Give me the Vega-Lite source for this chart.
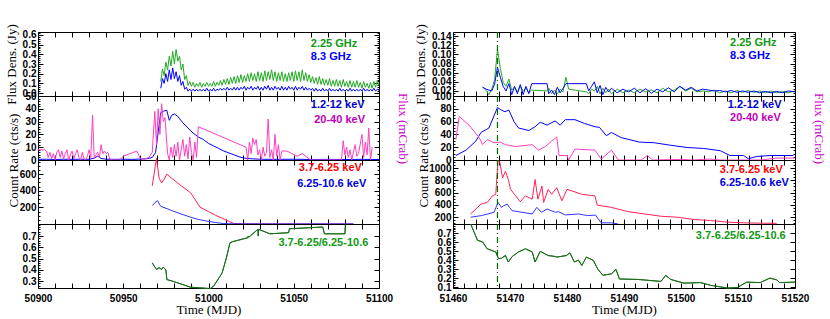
{
"$schema": "https://vega.github.io/schema/vega-lite/v6.json",
"background": "white",
"padding": {"left": 4, "top": 23, "right": 4, "bottom": 4},
"config": {
 "view": {"stroke": "black", "strokeWidth": 1},
 "axis": {"grid": false, "domain": false, "ticks": true, "tickColor": "black", "tickSize": -5, "tickWidth": 1, "labelPadding": 7, "labelFont": "Liberation Sans", "labelFontWeight": "bold", "labelFontSize": 10, "labelColor": "black", "labelOverlap": false, "labelFlush": false, "labelBound": false, "titleFont": "Liberation Serif", "titleFontWeight": "normal", "titleFontSize": 13, "titleColor": "black", "titlePadding": 4},
 "line": {"strokeWidth": 1},
 "text": {"font": "Liberation Sans", "fontWeight": "bold", "fontSize": 11}
},
"datasets": {
 "one": [{}],
 "radioL": [
{"d":50972,"g":0.12,"b":0.05},{"d":50973,"g":0.25,"b":0.15},{"d":50974,"g":0.18,"b":0.10},{"d":50975,"g":0.32,"b":0.20},{"d":50976,"g":0.24,"b":0.12},{"d":50977,"g":0.38,"b":0.24},{"d":50978,"g":0.28,"b":0.14},{"d":50979,"g":0.43,"b":0.26},{"d":50980,"g":0.30,"b":0.15},{"d":50981,"g":0.45,"b":0.22},{"d":50982,"g":0.33,"b":0.12},{"d":50983,"g":0.38,"b":0.18},{"d":50984,"g":0.24,"b":0.08},{"d":50985,"g":0.30,"b":0.12},{"d":50986,"g":0.14,"b":0.04},{"d":50987,"g":0.18,"b":0.06},{"d":50988,"g":0.08,"b":0.02},{"d":50989,"g":0.12,"b":0.04},{"d":50990,"g":0.07,"b":0.02},{"d":50991,"g":0.11,"b":0.04},{"d":50992,"g":0.06,"b":0.02},{"d":50993,"g":0.10,"b":0.04},{"d":50994,"g":0.07,"b":0.02},{"d":50995,"g":0.11,"b":0.04},{"d":50996,"g":0.06,"b":0.02},{"d":50997,"g":0.10,"b":0.04},{"d":50998,"g":0.07,"b":0.02},{"d":50999,"g":0.11,"b":0.05},{"d":51000,"g":0.07,"b":0.02},{"d":51001,"g":0.10,"b":0.04},{"d":51002,"g":0.07,"b":0.02},{"d":51003,"g":0.12,"b":0.05},{"d":51004,"g":0.07,"b":0.02},{"d":51005,"g":0.11,"b":0.04},{"d":51006,"g":0.08,"b":0.03},{"d":51007,"g":0.13,"b":0.05},{"d":51008,"g":0.08,"b":0.03},{"d":51009,"g":0.14,"b":0.05},{"d":51010,"g":0.09,"b":0.03},{"d":51011,"g":0.15,"b":0.06},{"d":51012,"g":0.09,"b":0.03},{"d":51013,"g":0.16,"b":0.05},{"d":51014,"g":0.10,"b":0.03},{"d":51015,"g":0.17,"b":0.06},{"d":51016,"g":0.10,"b":0.03},{"d":51017,"g":0.18,"b":0.06},{"d":51018,"g":0.11,"b":0.03},{"d":51019,"g":0.19,"b":0.06},{"d":51020,"g":0.11,"b":0.04},{"d":51021,"g":0.18,"b":0.07},{"d":51022,"g":0.12,"b":0.03},{"d":51023,"g":0.20,"b":0.06},{"d":51024,"g":0.12,"b":0.04},{"d":51025,"g":0.21,"b":0.07},{"d":51026,"g":0.13,"b":0.03},{"d":51027,"g":0.20,"b":0.06},{"d":51028,"g":0.12,"b":0.04},{"d":51029,"g":0.22,"b":0.07},{"d":51030,"g":0.13,"b":0.03},{"d":51031,"g":0.21,"b":0.06},{"d":51032,"g":0.12,"b":0.03},{"d":51033,"g":0.23,"b":0.07},{"d":51034,"g":0.13,"b":0.04},{"d":51035,"g":0.22,"b":0.08},{"d":51036,"g":0.14,"b":0.03},{"d":51037,"g":0.24,"b":0.06},{"d":51038,"g":0.13,"b":0.03},{"d":51039,"g":0.22,"b":0.07},{"d":51040,"g":0.12,"b":0.04},{"d":51041,"g":0.21,"b":0.06},{"d":51042,"g":0.13,"b":0.03},{"d":51043,"g":0.22,"b":0.07},{"d":51044,"g":0.12,"b":0.03},{"d":51045,"g":0.20,"b":0.06},{"d":51046,"g":0.12,"b":0.03},{"d":51047,"g":0.21,"b":0.07},{"d":51048,"g":0.13,"b":0.04},{"d":51049,"g":0.22,"b":0.06},{"d":51050,"g":0.12,"b":0.03},{"d":51051,"g":0.23,"b":0.07},{"d":51052,"g":0.13,"b":0.03},{"d":51053,"g":0.22,"b":0.06},{"d":51054,"g":0.12,"b":0.04},{"d":51055,"g":0.24,"b":0.07},{"d":51056,"g":0.13,"b":0.03},{"d":51057,"g":0.21,"b":0.06},{"d":51058,"g":0.12,"b":0.03},{"d":51059,"g":0.19,"b":0.05},{"d":51060,"g":0.11,"b":0.03},{"d":51061,"g":0.17,"b":0.05},{"d":51062,"g":0.10,"b":0.02},{"d":51063,"g":0.16,"b":0.05},{"d":51064,"g":0.09,"b":0.02},{"d":51065,"g":0.17,"b":0.04},{"d":51066,"g":0.09,"b":0.02},{"d":51067,"g":0.15,"b":0.05},{"d":51068,"g":0.08,"b":0.02},{"d":51069,"g":0.14,"b":0.04},{"d":51070,"g":0.08,"b":0.02},{"d":51071,"g":0.15,"b":0.05},{"d":51072,"g":0.07,"b":0.02},{"d":51073,"g":0.13,"b":0.04},{"d":51074,"g":0.07,"b":0.02},{"d":51075,"g":0.14,"b":0.04},{"d":51076,"g":0.07,"b":0.02},{"d":51077,"g":0.13,"b":0.05},{"d":51078,"g":0.06,"b":0.02},{"d":51079,"g":0.14,"b":0.04},{"d":51080,"g":0.07,"b":0.02},{"d":51081,"g":0.12,"b":0.04},{"d":51082,"g":0.06,"b":0.02},{"d":51083,"g":0.13,"b":0.05},{"d":51084,"g":0.06,"b":0.02},{"d":51085,"g":0.12,"b":0.04},{"d":51086,"g":0.06,"b":0.02},{"d":51087,"g":0.13,"b":0.04},{"d":51088,"g":0.06,"b":0.02},{"d":51089,"g":0.11,"b":0.04},{"d":51090,"g":0.05,"b":0.02},{"d":51091,"g":0.12,"b":0.05},{"d":51092,"g":0.06,"b":0.02},{"d":51093,"g":0.10,"b":0.04},{"d":51094,"g":0.05,"b":0.02},{"d":51095,"g":0.11,"b":0.04},{"d":51096,"g":0.05,"b":0.02},{"d":51097,"g":0.12,"b":0.05},{"d":51098,"g":0.06,"b":0.02},{"d":51099,"g":0.13,"b":0.04},{"d":51100,"g":0.08,"b":0.03}
 ],
 "asmL": [
{"d":50900,"v":0.5},{"d":50905,"v":0.6},{"d":50910,"v":0.4},{"d":50915,"v":0.6},{"d":50920,"v":0.5},{"d":50925,"v":0.6},{"d":50930,"v":0.5},{"d":50933,"v":1.5},{"d":50935,"v":3},{"d":50937,"v":1.2},{"d":50940,"v":0.6},{"d":50945,"v":0.5},{"d":50950,"v":0.6},{"d":50955,"v":0.5},{"d":50960,"v":0.7},{"d":50964,"v":1},{"d":50967,"v":2},{"d":50969,"v":6},{"d":50970.5,"v":22},{"d":50972,"v":37},{"d":50973.5,"v":38},{"d":50975.5,"v":39},{"d":50977,"v":31},{"d":50978.5,"v":35},{"d":50980,"v":36},{"d":50982,"v":34},{"d":50985,"v":29},{"d":50988,"v":25},{"d":50991,"v":21},{"d":50994,"v":18},{"d":50997,"v":16},{"d":51000,"v":13},{"d":51003,"v":11},{"d":51006,"v":9},{"d":51009,"v":7},{"d":51012,"v":5.5},{"d":51015,"v":4},{"d":51018,"v":2.5},{"d":51021,"v":1.5},{"d":51025,"v":1},{"d":51030,"v":0.6},{"d":51040,"v":0.5},{"d":51050,"v":0.6},{"d":51060,"v":0.4},{"d":51070,"v":0.5},{"d":51080,"v":0.4},{"d":51090,"v":0.5},{"d":51100,"v":0.4}
 ],
 "batseL": [
{"d":50900,"v":8},{"d":50904,"v":8},{"d":50905,"v":7},{"d":50906,"v":2},{"d":50907,"v":6},{"d":50908,"v":1},{"d":50909,"v":5},{"d":50910,"v":0},{"d":50911,"v":6},{"d":50912,"v":8},{"d":50913,"v":2},{"d":50914,"v":7},{"d":50915,"v":1},{"d":50916,"v":5},{"d":50917,"v":8},{"d":50918,"v":0},{"d":50919,"v":4},{"d":50920,"v":7},{"d":50921,"v":1},{"d":50922,"v":5},{"d":50923,"v":8},{"d":50924,"v":2},{"d":50925,"v":0},{"d":50926,"v":6},{"d":50927,"v":1},{"d":50928,"v":0},{"d":50929,"v":3},{"d":50930,"v":8},{"d":50931,"v":2},{"d":50932,"v":35},{"d":50933,"v":1},{"d":50934,"v":4},{"d":50935,"v":6},{"d":50936,"v":2},{"d":50937,"v":12},{"d":50938,"v":5},{"d":50939,"v":7},{"d":50940,"v":5},{"d":50941,"v":6},{"d":50942,"v":1},{"d":50944,"v":0},{"d":50948,"v":0},{"d":50950,"v":3},{"d":50958,"v":7},{"d":50960,"v":1},{"d":50962,"v":0.5},{"d":50965,"v":2},{"d":50967,"v":6},{"d":50968.5,"v":38},{"d":50969.5,"v":12},{"d":50970.5,"v":40},{"d":50971.5,"v":20},{"d":50972.5,"v":44},{"d":50973.5,"v":30},{"d":50974.5,"v":33},{"d":50975.5,"v":14},{"d":50976,"v":5},{"d":50977,"v":0},{"d":50978,"v":10},{"d":50979,"v":2},{"d":50980,"v":12},{"d":50981,"v":3},{"d":50982,"v":14},{"d":50983,"v":0},{"d":50984,"v":8},{"d":50985,"v":16},{"d":50986,"v":3},{"d":50987,"v":12},{"d":50988,"v":1},{"d":50989,"v":18},{"d":50990,"v":6},{"d":50991,"v":0},{"d":50992,"v":14},{"d":50993,"v":2},{"d":50994,"v":26},{"d":51022,"v":10},{"d":51023,"v":0},{"d":51024,"v":14},{"d":51025,"v":5},{"d":51026,"v":17},{"d":51027,"v":12},{"d":51028,"v":16},{"d":51029,"v":4},{"d":51030,"v":8},{"d":51031,"v":0},{"d":51032,"v":10},{"d":51033,"v":3},{"d":51034,"v":6},{"d":51035,"v":32},{"d":51036,"v":2},{"d":51037,"v":8},{"d":51038,"v":0},{"d":51039,"v":20},{"d":51040,"v":3},{"d":51041,"v":12},{"d":51042,"v":0},{"d":51043,"v":7},{"d":51046,"v":7},{"d":51052,"v":3},{"d":51055,"v":5},{"d":51060,"v":0},{"d":51070,"v":0},{"d":51078,"v":0},{"d":51079,"v":15},{"d":51080,"v":4},{"d":51081,"v":10},{"d":51082,"v":2},{"d":51083,"v":8},{"d":51084,"v":0},{"d":51086,"v":12},{"d":51087,"v":3},{"d":51088,"v":5},{"d":51090,"v":20},{"d":51091,"v":2},{"d":51092,"v":14},{"d":51093,"v":4},{"d":51094,"v":25},{"d":51095,"v":0},{"d":51096,"v":10}
 ],
 "softL": [
{"d":50967,"v":459},{"d":50969.5,"v":790},{"d":50970.5,"v":640},{"d":50971,"v":553},{"d":50972.5,"v":494},{"d":50974,"v":540},{"d":50975.5,"v":600},{"d":50979,"v":541},{"d":50984,"v":460},{"d":50989.5,"v":376},{"d":50995,"v":203},{"d":51000,"v":150},{"d":51004,"v":106},{"d":51008,"v":70},{"d":51012.5,"v":27},{"d":51015,"v":6},{"d":51020,"v":3},{"d":51030,"v":2},{"d":51050,"v":1},{"d":51070,"v":1},{"d":51085,"v":1}
 ],
 "hardL": [
{"d":50967,"v":223},{"d":50970,"v":282},{"d":50972,"v":212},{"d":50975,"v":190},{"d":50979,"v":157},{"d":50984,"v":120},{"d":50989.5,"v":82},{"d":50994,"v":55},{"d":50999,"v":35},{"d":51004,"v":18},{"d":51009,"v":5},{"d":51015,"v":2},{"d":51030,"v":1},{"d":51085,"v":1}
 ],
 "ratioL": [
{"d":50967,"v":0.463},{"d":50969.5,"v":0.404},{"d":50971,"v":0.42},{"d":50972.5,"v":0.405},{"d":50973.5,"v":0.425},{"d":50975,"v":0.40},{"d":50975.6,"v":0.315},{"d":50979,"v":0.30},{"d":50989.5,"v":0.247},{"d":51001,"v":0.235},{"d":51003,"v":0.256},{"d":51008,"v":0.374},{"d":51010.5,"v":0.507},{"d":51012.6,"v":0.64},{"d":51014,"v":0.65},{"d":51023,"v":0.685},{"d":51023.3,"v":0.70},{"d":51023.6,"v":0.69},{"d":51029,"v":0.76},{"d":51029.2,"v":0.70},{"d":51029.4,"v":0.76},{"d":51036,"v":0.72},{"d":51047,"v":0.73},{"d":51047.5,"v":0.765},{"d":51067,"v":0.78},{"d":51068,"v":0.72},{"d":51080,"v":0.72},{"d":51080.3,"v":0.80}
 ],
 "radioR": [
{"d":51465.2,"g":0.029,"b":0.028},{"d":51465.8,"g":0.021,"b":0.024},{"d":51466.3,"g":0.012,"b":0.022},{"d":51466.8,"g":0.024,"b":0.020},{"d":51467.3,"g":0.045,"b":0.035},{"d":51467.8,"g":0.111,"b":0.072},{"d":51468.3,"g":0.070,"b":0.050},{"d":51468.8,"g":0.039,"b":0.030},{"d":51469.3,"g":0.030,"b":0.020},{"d":51469.8,"g":0.046,"b":0.036},{"d":51470.3,"g":0.022,"b":0.012},{"d":51470.8,"g":0.028,"b":0.030},{"d":51471.3,"g":0.018,"b":0.014},{"d":51471.8,"g":0.030,"b":0.034},{"d":51472.3,"g":0.020,"b":0.012},{"d":51472.8,"g":0.026,"b":0.030},{"d":51473.3,"g":0.016,"b":0.014},{"d":51473.8,"g":0.022,"b":0.036},{"d":51476.5,"g":0.020,"b":0.036},{"d":51476.8,"g":0.026,"b":0.014},{"d":51477.3,"g":0.014,"b":0.022},{"d":51477.8,"g":0.022,"b":0.012},{"d":51478.3,"g":0.014,"b":0.028},{"d":51478.8,"g":0.024,"b":0.016},{"d":51479.3,"g":0.018,"b":0.026},{"d":51479.8,"g":0.050,"b":0.036},{"d":51480.3,"g":0.024,"b":0.036},{"d":51483.4,"g":0.018,"b":0.036},{"d":51483.8,"g":0.014,"b":0.020},{"d":51484.3,"g":0.024,"b":0.030},{"d":51484.8,"g":0.020,"b":0.040},{"d":51485.3,"g":0.030,"b":0.016},{"d":51485.8,"g":0.014,"b":0.032},{"d":51486.3,"g":0.026,"b":0.012},{"d":51486.8,"g":0.016,"b":0.028},{"d":51487.3,"g":0.024,"b":0.018},{"d":51487.8,"g":0.014,"b":0.026},{"d":51488.8,"g":0.024,"b":0.016},{"d":51489.8,"g":0.016,"b":0.024},{"d":51490.8,"g":0.022,"b":0.018},{"d":51491.8,"g":0.016,"b":0.026},{"d":51492.8,"g":0.024,"b":0.016},{"d":51493.8,"g":0.018,"b":0.025},{"d":51494.8,"g":0.022,"b":0.015},{"d":51495.8,"g":0.016,"b":0.024},{"d":51496.8,"g":0.026,"b":0.018},{"d":51497.8,"g":0.018,"b":0.027},{"d":51498.8,"g":0.022,"b":0.018},{"d":51499.8,"g":0.030,"b":0.030},{"d":51500.8,"g":0.020,"b":0.022},{"d":51501.8,"g":0.026,"b":0.028},{"d":51502.8,"g":0.018,"b":0.020},{"d":51503.8,"g":0.020,"b":0.024},{"d":51504.8,"g":0.018,"b":0.022},{"d":51505.8,"g":0.022,"b":0.020},{"d":51506.8,"g":0.016,"b":0.021},{"d":51507.8,"g":0.020,"b":0.018},{"d":51508.8,"g":0.016,"b":0.021},{"d":51509.8,"g":0.021,"b":0.017},{"d":51510.8,"g":0.017,"b":0.020},{"d":51511.8,"g":0.021,"b":0.017},{"d":51512.8,"g":0.017,"b":0.020},{"d":51513.8,"g":0.020,"b":0.016},{"d":51514.8,"g":0.016,"b":0.019},{"d":51515.8,"g":0.020,"b":0.016},{"d":51516.8,"g":0.016,"b":0.019},{"d":51517.8,"g":0.019,"b":0.016},{"d":51518.8,"g":0.016,"b":0.020},{"d":51520,"g":0.020,"b":0.018}
 ],
 "asmR": [
{"d":51460.5,"v":7},{"d":51462.3,"v":15.5},{"d":51464,"v":29.5},{"d":51464.9,"v":43},{"d":51466.3,"v":50},{"d":51467.8,"v":82},{"d":51468.5,"v":78},{"d":51469.1,"v":75.5},{"d":51469.8,"v":78},{"d":51470.7,"v":60},{"d":51471.5,"v":50},{"d":51473.3,"v":46},{"d":51474.4,"v":52},{"d":51475.3,"v":59},{"d":51476.5,"v":54.5},{"d":51477.9,"v":61},{"d":51478.8,"v":54.5},{"d":51479.7,"v":63},{"d":51481.4,"v":63},{"d":51483.1,"v":57},{"d":51484.9,"v":52},{"d":51485.7,"v":51},{"d":51486.9,"v":38},{"d":51487.8,"v":43},{"d":51489.5,"v":35},{"d":51492.7,"v":28},{"d":51495.3,"v":27},{"d":51498.2,"v":23},{"d":51501.1,"v":19.5},{"d":51504,"v":18},{"d":51506.9,"v":14.5},{"d":51508.6,"v":7},{"d":51511,"v":7},{"d":51511.8,"v":2},{"d":51513.3,"v":5.5},{"d":51515.6,"v":7},{"d":51519.7,"v":7}
 ],
 "batseR": [
{"d":51460.5,"v":32},{"d":51461.1,"v":68},{"d":51462.8,"v":54.5},{"d":51464.6,"v":35},{"d":51465.2,"v":24},{"d":51466,"v":32},{"d":51467.2,"v":27},{"d":51468.3,"v":28},{"d":51469.2,"v":24},{"d":51471,"v":21},{"d":51473.9,"v":24},{"d":51475,"v":15.5},{"d":51476.2,"v":21},{"d":51477.3,"v":29.5},{"d":51478.2,"v":36},{"d":51478.6,"v":7},{"d":51480,"v":7},{"d":51480.3,"v":0},{"d":51481.4,"v":17},{"d":51484.9,"v":15.5},{"d":51486,"v":1.5},{"d":51487.8,"v":15.5},{"d":51489,"v":0},{"d":51493,"v":0},{"d":51494.1,"v":7},{"d":51495,"v":0},{"d":51500,"v":1},{"d":51502,"v":0},{"d":51505,"v":1.5},{"d":51507,"v":0},{"d":51514,"v":0},{"d":51516.8,"v":3},{"d":51520,"v":3}
 ],
 "softR": [
{"d":51463.1,"v":253},{"d":51464.9,"v":413},{"d":51466,"v":440},{"d":51466.9,"v":547},{"d":51467.5,"v":573},{"d":51467.9,"v":1120},{"d":51468.2,"v":1100},{"d":51468.7,"v":840},{"d":51469.2,"v":947},{"d":51469.7,"v":813},{"d":51470.1,"v":653},{"d":51471,"v":547},{"d":51471.8,"v":451},{"d":51472.7,"v":547},{"d":51473.9,"v":493},{"d":51474.4,"v":813},{"d":51474.9,"v":493},{"d":51475.6,"v":707},{"d":51475.9,"v":440},{"d":51476.7,"v":653},{"d":51477.3,"v":573},{"d":51478.2,"v":680},{"d":51479.1,"v":467},{"d":51480,"v":653},{"d":51481.4,"v":611},{"d":51482.6,"v":573},{"d":51484.9,"v":547},{"d":51485.3,"v":397},{"d":51487.8,"v":360},{"d":51490.7,"v":291},{"d":51493.6,"v":253},{"d":51496.5,"v":216},{"d":51499.4,"v":200},{"d":51502.3,"v":163},{"d":51505.2,"v":147},{"d":51508.1,"v":120},{"d":51511,"v":109},{"d":51513.9,"v":104},{"d":51516.8,"v":100}
 ],
 "hardR": [
{"d":51463.1,"v":200},{"d":51465,"v":227},{"d":51467.2,"v":280},{"d":51467.9,"v":440},{"d":51468.5,"v":360},{"d":51468.9,"v":387},{"d":51469.5,"v":413},{"d":51469.9,"v":360},{"d":51470.4,"v":307},{"d":51472.1,"v":280},{"d":51473.9,"v":253},{"d":51474.7,"v":360},{"d":51475.5,"v":280},{"d":51476.5,"v":333},{"d":51478,"v":280},{"d":51478.5,"v":291},{"d":51479.7,"v":237},{"d":51482,"v":253},{"d":51483.6,"v":227},{"d":51485,"v":235},{"d":51486,"v":109},{"d":51487.8,"v":109},{"d":51488.9,"v":93}
 ],
 "ratioR": [
{"d":51463.1,"v":0.80},{"d":51464.3,"v":0.62},{"d":51465.2,"v":0.60},{"d":51466,"v":0.525},{"d":51467.5,"v":0.49},{"d":51468,"v":0.415},{"d":51468.5,"v":0.42},{"d":51469.2,"v":0.45},{"d":51469.7,"v":0.378},{"d":51470.4,"v":0.44},{"d":51471.5,"v":0.49},{"d":51472.7,"v":0.525},{"d":51473.9,"v":0.49},{"d":51474.4,"v":0.378},{"d":51475.3,"v":0.497},{"d":51476.7,"v":0.45},{"d":51477.9,"v":0.44},{"d":51478.2,"v":0.433},{"d":51479.9,"v":0.45},{"d":51480.5,"v":0.48},{"d":51481.3,"v":0.378},{"d":51482,"v":0.40},{"d":51482.6,"v":0.34},{"d":51483.4,"v":0.433},{"d":51484.6,"v":0.397},{"d":51485.4,"v":0.30},{"d":51486.3,"v":0.23},{"d":51487.8,"v":0.248},{"d":51488.6,"v":0.296},{"d":51489.2,"v":0.19},{"d":51492.4,"v":0.185},{"d":51496.5,"v":0.163},{"d":51497.3,"v":0.23},{"d":51498.2,"v":0.185},{"d":51500.5,"v":0.144},{"d":51503.4,"v":0.15},{"d":51505.2,"v":0.12},{"d":51508.1,"v":0.09},{"d":51509.9,"v":0.095},{"d":51511.5,"v":0.155},{"d":51513.9,"v":0.15},{"d":51515.6,"v":0.2},{"d":51516.8,"v":0.18},{"d":51517.3,"v":0.15},{"d":51520,"v":0.155}
 ]
},
"spacing": 5,
"hconcat": [
 {"vconcat": [
  {"width": 341, "height": 64, "resolve": {"axis": {"x": "independent", "y": "independent"}},
   "layer": [
    {"data": {"name": "radioL"}, "mark": {"type": "line", "color": "#22aa22"},
     "encoding": {"x": {"field": "d", "type": "quantitative", "scale": {"domain": [50900, 51100], "nice": false, "zero": false}, "axis": {"orient": "bottom", "values": [50900,50910,50920,50930,50940,50950,50960,50970,50980,50990,51000,51010,51020,51030,51040,51050,51060,51070,51080,51090,51100], "labels": false, "title": null}},
      "y": {"field": "g", "type": "quantitative", "scale": {"domain": [-0.03, 0.63], "nice": false, "zero": false}, "axis": {"orient": "left", "values": [0,0.1,0.2,0.3,0.4,0.5,0.6], "format": ".1f", "title": "Flux Dens. (Jy)"}}}},
    {"data": {"name": "radioL"}, "mark": {"type": "line", "color": "#0000ff"},
     "encoding": {"x": {"field": "d", "type": "quantitative", "axis": {"orient": "top", "values": [50900,50910,50920,50930,50940,50950,50960,50970,50980,50990,51000,51010,51020,51030,51040,51050,51060,51070,51080,51090,51100], "labels": false, "title": null}},
      "y": {"field": "b", "type": "quantitative", "axis": {"orient": "right", "values": [0,0.1,0.2,0.3,0.4,0.5,0.6], "labels": false, "title": null}}}},
    {"data": {"name": "one"}, "mark": {"type": "text", "align": "left", "baseline": "middle", "color": "#119911"}, "encoding": {"x": {"datum": 51060, "axis": null}, "y": {"datum": 0.51, "axis": {"orient": "left", "values": [0.02,0.04,0.06,0.08,0.12,0.14,0.16,0.18,0.22,0.24,0.26,0.28,0.32,0.34,0.36,0.38,0.42,0.44,0.46,0.48,0.52,0.54,0.56,0.58,0.62], "labels": false, "title": null, "tickSize": -2}}, "text": {"value": "2.25 GHz"}}},
    {"data": {"name": "one"}, "mark": {"type": "text", "align": "left", "baseline": "middle", "color": "#0000ff"}, "encoding": {"x": {"datum": 51060, "axis": null}, "y": {"datum": 0.375, "axis": {"orient": "right", "values": [0.02,0.04,0.06,0.08,0.12,0.14,0.16,0.18,0.22,0.24,0.26,0.28,0.32,0.34,0.36,0.38,0.42,0.44,0.46,0.48,0.52,0.54,0.56,0.58,0.62], "labels": false, "title": null, "tickSize": -2}}, "text": {"value": "8.3 GHz"}}}
   ]},
  {"width": 341, "height": 64, "resolve": {"axis": {"x": "independent", "y": "independent"}},
   "layer": [
    {"data": {"name": "asmL"}, "mark": {"type": "line", "color": "#0000ff"},
     "encoding": {"x": {"field": "d", "type": "quantitative", "scale": {"domain": [50900, 51100], "nice": false, "zero": false}, "axis": {"orient": "bottom", "values": [50900,50910,50920,50930,50940,50950,50960,50970,50980,50990,51000,51010,51020,51030,51040,51050,51060,51070,51080,51090,51100], "labels": false, "title": null}},
      "y": {"field": "v", "type": "quantitative", "scale": {"domain": [0, 50], "nice": false}, "axis": {"orient": "left", "values": [0,10,20,30,40,50], "title": "Count Rate (cts/s)", "titleY": 64}}}},
    {"data": {"name": "batseL"}, "mark": {"type": "line", "color": "#ff3fbf"},
     "encoding": {"x": {"field": "d", "type": "quantitative", "axis": {"orient": "top", "values": [50900,50910,50920,50930,50940,50950,50960,50970,50980,50990,51000,51010,51020,51030,51040,51050,51060,51070,51080,51090,51100], "labels": false, "title": null}},
      "y": {"field": "v", "type": "quantitative", "axis": {"orient": "right", "values": [0,10,20,30,40,50], "labels": false, "title": "Flux (mCrab)", "titleColor": "#cc00cc", "titlePadding": 16}}}},
    {"data": {"name": "one"}, "mark": {"type": "text", "align": "left", "baseline": "middle", "color": "#0000cc"}, "encoding": {"x": {"datum": 51060, "axis": null}, "y": {"datum": 42.6, "axis": {"orient": "left", "values": [2,4,6,8,12,14,16,18,22,24,26,28,32,34,36,38,42,44,46,48], "labels": false, "title": null, "tickSize": -2}}, "text": {"value": "1.2-12 keV"}}},
    {"data": {"name": "one"}, "mark": {"type": "text", "align": "left", "baseline": "middle", "color": "#bb00bb"}, "encoding": {"x": {"datum": 51062, "axis": null}, "y": {"datum": 31, "axis": {"orient": "right", "values": [5,15,25,35,45], "labels": false, "title": null, "tickSize": -2}}, "text": {"value": "20-40 keV"}}}
   ]},
  {"width": 341, "height": 64, "resolve": {"axis": {"x": "independent", "y": "independent"}},
   "layer": [
    {"data": {"name": "softL"}, "mark": {"type": "line", "color": "#ff2255"},
     "encoding": {"x": {"field": "d", "type": "quantitative", "scale": {"domain": [50900, 51100], "nice": false, "zero": false}, "axis": {"orient": "bottom", "values": [50900,50910,50920,50930,50940,50950,50960,50970,50980,50990,51000,51010,51020,51030,51040,51050,51060,51070,51080,51090,51100], "labels": false, "title": null}},
      "y": {"field": "v", "type": "quantitative", "scale": {"domain": [0, 770], "nice": false}, "axis": {"orient": "left", "values": [200,400,600], "title": null}}}},
    {"data": {"name": "hardL"}, "mark": {"type": "line", "color": "#3333ff"},
     "encoding": {"x": {"field": "d", "type": "quantitative", "axis": {"orient": "top", "values": [50900,50910,50920,50930,50940,50950,50960,50970,50980,50990,51000,51010,51020,51030,51040,51050,51060,51070,51080,51090,51100], "labels": false, "title": null}},
      "y": {"field": "v", "type": "quantitative", "axis": {"orient": "right", "values": [200,400,600], "labels": false, "title": null}}}},
    {"data": {"name": "one"}, "mark": {"type": "text", "align": "left", "baseline": "middle", "color": "#ff0000"}, "encoding": {"x": {"datum": 51053, "axis": null}, "y": {"datum": 670, "axis": {"orient": "left", "values": [50,100,150,250,300,350,450,500,550,650,700,750], "labels": false, "title": null, "tickSize": -2}}, "text": {"value": "3.7-6.25 keV"}}},
    {"data": {"name": "one"}, "mark": {"type": "text", "align": "left", "baseline": "middle", "color": "#0000dd"}, "encoding": {"x": {"datum": 51052, "axis": null}, "y": {"datum": 482, "axis": {"orient": "right", "values": [50,100,150,250,300,350,450,500,550,650,700,750], "labels": false, "title": null, "tickSize": -2}}, "text": {"value": "6.25-10.6 keV"}}}
   ]},
  {"width": 341, "height": 64, "resolve": {"axis": {"x": "independent", "y": "independent"}},
   "layer": [
    {"data": {"name": "ratioL"}, "mark": {"type": "line", "color": "#1a6e1a"},
     "encoding": {"x": {"field": "d", "type": "quantitative", "scale": {"domain": [50900, 51100], "nice": false, "zero": false}, "axis": {"orient": "bottom", "values": [50900,50910,50920,50930,50940,50950,50960,50970,50980,50990,51000,51010,51020,51030,51040,51050,51060,51070,51080,51090,51100], "format": "d", "labelExpr": "datum.value % 50 == 0 ? datum.label : ''", "labelPadding": 10, "title": "Time (MJD)", "titlePadding": 0}},
      "y": {"field": "v", "type": "quantitative", "scale": {"domain": [0.24, 0.807], "nice": false, "zero": false}, "axis": {"orient": "left", "values": [0.3,0.4,0.5,0.6,0.7], "format": ".1f", "title": null}}}},
    {"data": {"name": "ratioL"}, "mark": {"type": "line", "color": "#1a6e1a"},
     "encoding": {"x": {"field": "d", "type": "quantitative", "axis": {"orient": "top", "values": [50900,50910,50920,50930,50940,50950,50960,50970,50980,50990,51000,51010,51020,51030,51040,51050,51060,51070,51080,51090,51100], "labels": false, "title": null}},
      "y": {"field": "v", "type": "quantitative", "axis": {"orient": "right", "values": [0.3,0.4,0.5,0.6,0.7], "labels": false, "title": null}}}},
    {"data": {"name": "one"}, "mark": {"type": "text", "align": "left", "baseline": "middle", "color": "#119911"}, "encoding": {"x": {"datum": 51041, "axis": null}, "y": {"datum": 0.64, "axis": {"orient": "left", "values": [0.26,0.28,0.32,0.34,0.36,0.38,0.42,0.44,0.46,0.48,0.52,0.54,0.56,0.58,0.62,0.64,0.66,0.68,0.72,0.74,0.76,0.78,0.8], "labels": false, "title": null, "tickSize": -2}}, "text": {"value": "3.7-6.25/6.25-10.6"}}}
   ]}
 ], "spacing": 0, "bounds": "flush"},
 {"vconcat": [
  {"width": 342, "height": 64, "resolve": {"axis": {"x": "independent", "y": "independent"}},
   "layer": [
    {"data": {"name": "radioR"}, "mark": {"type": "line", "color": "#22aa22"},
     "encoding": {"x": {"field": "d", "type": "quantitative", "scale": {"domain": [51460, 51520], "nice": false, "zero": false}, "axis": {"orient": "bottom", "values": [51460,51462,51464,51466,51468,51470,51472,51474,51476,51478,51480,51482,51484,51486,51488,51490,51492,51494,51496,51498,51500,51502,51504,51506,51508,51510,51512,51514,51516,51518,51520], "labels": false, "title": null}},
      "y": {"field": "g", "type": "quantitative", "scale": {"domain": [0.009, 0.149], "nice": false, "zero": false}, "axis": {"orient": "left", "values": [0.02,0.04,0.06,0.08,0.1,0.12,0.14], "format": ".2f", "title": "Flux Dens. (Jy)"}}}},
    {"data": {"name": "radioR"}, "mark": {"type": "line", "color": "#0000ff"},
     "encoding": {"x": {"field": "d", "type": "quantitative", "axis": {"orient": "top", "values": [51460,51462,51464,51466,51468,51470,51472,51474,51476,51478,51480,51482,51484,51486,51488,51490,51492,51494,51496,51498,51500,51502,51504,51506,51508,51510,51512,51514,51516,51518,51520], "labels": false, "title": null}},
      "y": {"field": "b", "type": "quantitative", "axis": {"orient": "right", "values": [0.02,0.04,0.06,0.08,0.1,0.12,0.14], "labels": false, "title": null}}}},
    {"data": {"name": "one"}, "mark": {"type": "rule", "color": "#006600", "strokeDash": [6, 3, 1, 3], "strokeWidth": 1.2}, "encoding": {"x": {"datum": 51467.8, "axis": null}}},
    {"data": {"name": "one"}, "mark": {"type": "text", "align": "left", "baseline": "middle", "color": "#119911"}, "encoding": {"x": {"datum": 51508.6, "axis": null}, "y": {"datum": 0.124, "axis": {"orient": "left", "values": [0.01,0.015,0.025,0.03,0.035,0.045,0.05,0.055,0.065,0.07,0.075,0.085,0.09,0.095,0.105,0.11,0.115,0.125,0.13,0.135,0.145], "labels": false, "title": null, "tickSize": -2}}, "text": {"value": "2.25 GHz"}}},
    {"data": {"name": "one"}, "mark": {"type": "text", "align": "left", "baseline": "middle", "color": "#0000ff"}, "encoding": {"x": {"datum": 51508.6, "axis": null}, "y": {"datum": 0.097, "axis": {"orient": "right", "values": [0.01,0.015,0.025,0.03,0.035,0.045,0.05,0.055,0.065,0.07,0.075,0.085,0.09,0.095,0.105,0.11,0.115,0.125,0.13,0.135,0.145], "labels": false, "title": null, "tickSize": -2}}, "text": {"value": "8.3 GHz"}}}
   ]},
  {"width": 342, "height": 64, "resolve": {"axis": {"x": "independent", "y": "independent"}},
   "layer": [
    {"data": {"name": "asmR"}, "mark": {"type": "line", "color": "#0000ff"},
     "encoding": {"x": {"field": "d", "type": "quantitative", "scale": {"domain": [51460, 51520], "nice": false, "zero": false}, "axis": {"orient": "bottom", "values": [51460,51462,51464,51466,51468,51470,51472,51474,51476,51478,51480,51482,51484,51486,51488,51490,51492,51494,51496,51498,51500,51502,51504,51506,51508,51510,51512,51514,51516,51518,51520], "labels": false, "title": null}},
      "y": {"field": "v", "type": "quantitative", "scale": {"domain": [0, 100], "nice": false}, "axis": {"orient": "left", "values": [0,20,40,60,80,100], "title": "Count Rate (cts/s)", "titleY": 64}}}},
    {"data": {"name": "batseR"}, "mark": {"type": "line", "color": "#ff3fbf"},
     "encoding": {"x": {"field": "d", "type": "quantitative", "axis": {"orient": "top", "values": [51460,51462,51464,51466,51468,51470,51472,51474,51476,51478,51480,51482,51484,51486,51488,51490,51492,51494,51496,51498,51500,51502,51504,51506,51508,51510,51512,51514,51516,51518,51520], "labels": false, "title": null}},
      "y": {"field": "v", "type": "quantitative", "axis": {"orient": "right", "values": [0,20,40,60,80,100], "labels": false, "title": "Flux (mCrab)", "titleColor": "#cc00cc", "titlePadding": 16}}}},
    {"data": {"name": "one"}, "mark": {"type": "rule", "color": "#006600", "strokeDash": [6, 3, 1, 3], "strokeWidth": 1.2}, "encoding": {"x": {"datum": 51467.8, "axis": null}}},
    {"data": {"name": "one"}, "mark": {"type": "text", "align": "left", "baseline": "middle", "color": "#0000cc"}, "encoding": {"x": {"datum": 51508.2, "axis": null}, "y": {"datum": 86, "axis": {"orient": "left", "values": [5,10,15,25,30,35,45,50,55,65,70,75,85,90,95], "labels": false, "title": null, "tickSize": -2}}, "text": {"value": "1.2-12 keV"}}},
    {"data": {"name": "one"}, "mark": {"type": "text", "align": "left", "baseline": "middle", "color": "#bb00bb"}, "encoding": {"x": {"datum": 51508.6, "axis": null}, "y": {"datum": 65.5, "axis": {"orient": "right", "values": [5,10,15,25,30,35,45,50,55,65,70,75,85,90,95], "labels": false, "title": null, "tickSize": -2}}, "text": {"value": "20-40 keV"}}}
   ]},
  {"width": 342, "height": 64, "resolve": {"axis": {"x": "independent", "y": "independent"}},
   "layer": [
    {"data": {"name": "softR"}, "mark": {"type": "line", "color": "#ff2255"},
     "encoding": {"x": {"field": "d", "type": "quantitative", "scale": {"domain": [51460, 51520], "nice": false, "zero": false}, "axis": {"orient": "bottom", "values": [51460,51462,51464,51466,51468,51470,51472,51474,51476,51478,51480,51482,51484,51486,51488,51490,51492,51494,51496,51498,51500,51502,51504,51506,51508,51510,51512,51514,51516,51518,51520], "labels": false, "title": null}},
      "y": {"field": "v", "type": "quantitative", "scale": {"domain": [90, 1130], "nice": false, "zero": false}, "axis": {"orient": "left", "values": [200,400,600,800,1000], "format": "d", "title": null}}}},
    {"data": {"name": "hardR"}, "mark": {"type": "line", "color": "#3333ff"},
     "encoding": {"x": {"field": "d", "type": "quantitative", "axis": {"orient": "top", "values": [51460,51462,51464,51466,51468,51470,51472,51474,51476,51478,51480,51482,51484,51486,51488,51490,51492,51494,51496,51498,51500,51502,51504,51506,51508,51510,51512,51514,51516,51518,51520], "labels": false, "title": null}},
      "y": {"field": "v", "type": "quantitative", "axis": {"orient": "right", "values": [200,400,600,800,1000], "labels": false, "title": null}}}},
    {"data": {"name": "one"}, "mark": {"type": "rule", "color": "#006600", "strokeDash": [6, 3, 1, 3], "strokeWidth": 1.2}, "encoding": {"x": {"datum": 51467.8, "axis": null}}},
    {"data": {"name": "one"}, "mark": {"type": "text", "align": "left", "baseline": "middle", "color": "#ff0000"}, "encoding": {"x": {"datum": 51506.8, "axis": null}, "y": {"datum": 973, "axis": {"orient": "left", "values": [100,150,250,300,350,450,500,550,650,700,750,850,900,950,1050,1100], "labels": false, "title": null, "tickSize": -2}}, "text": {"value": "3.7-6.25 keV"}}},
    {"data": {"name": "one"}, "mark": {"type": "text", "align": "left", "baseline": "middle", "color": "#0000dd"}, "encoding": {"x": {"datum": 51506.8, "axis": null}, "y": {"datum": 749, "axis": {"orient": "right", "values": [100,150,250,300,350,450,500,550,650,700,750,850,900,950,1050,1100], "labels": false, "title": null, "tickSize": -2}}, "text": {"value": "6.25-10.6 keV"}}}
   ]},
  {"width": 342, "height": 64, "resolve": {"axis": {"x": "independent", "y": "independent"}},
   "layer": [
    {"data": {"name": "ratioR"}, "mark": {"type": "line", "color": "#1a6e1a"},
     "encoding": {"x": {"field": "d", "type": "quantitative", "scale": {"domain": [51460, 51520], "nice": false, "zero": false}, "axis": {"orient": "bottom", "values": [51460,51462,51464,51466,51468,51470,51472,51474,51476,51478,51480,51482,51484,51486,51488,51490,51492,51494,51496,51498,51500,51502,51504,51506,51508,51510,51512,51514,51516,51518,51520], "format": "d", "labelExpr": "datum.value % 10 == 0 ? datum.label : ''", "labelPadding": 10, "title": "Time (MJD)", "titlePadding": 0}},
      "y": {"field": "v", "type": "quantitative", "scale": {"domain": [0.09, 0.8], "nice": false, "zero": false}, "axis": {"orient": "left", "values": [0.1,0.2,0.3,0.4,0.5,0.6,0.7], "format": ".1f", "title": null}}}},
    {"data": {"name": "ratioR"}, "mark": {"type": "line", "color": "#1a6e1a"},
     "encoding": {"x": {"field": "d", "type": "quantitative", "axis": {"orient": "top", "values": [51460,51462,51464,51466,51468,51470,51472,51474,51476,51478,51480,51482,51484,51486,51488,51490,51492,51494,51496,51498,51500,51502,51504,51506,51508,51510,51512,51514,51516,51518,51520], "labels": false, "title": null}},
      "y": {"field": "v", "type": "quantitative", "axis": {"orient": "right", "values": [0.1,0.2,0.3,0.4,0.5,0.6,0.7], "labels": false, "title": null}}}},
    {"data": {"name": "one"}, "mark": {"type": "rule", "color": "#006600", "strokeDash": [6, 3, 1, 3], "strokeWidth": 1.2}, "encoding": {"x": {"datum": 51467.8, "axis": null}}},
    {"data": {"name": "one"}, "mark": {"type": "text", "align": "left", "baseline": "middle", "color": "#119911"}, "encoding": {"x": {"datum": 51502.6, "axis": null}, "y": {"datum": 0.667, "axis": {"orient": "left", "values": [0.12,0.14,0.16,0.18,0.22,0.24,0.26,0.28,0.32,0.34,0.36,0.38,0.42,0.44,0.46,0.48,0.52,0.54,0.56,0.58,0.62,0.64,0.66,0.68,0.72,0.74,0.76,0.78], "labels": false, "title": null, "tickSize": -2}}, "text": {"value": "3.7-6.25/6.25-10.6"}}}
   ]}
 ], "spacing": 0, "bounds": "flush"}
]
}
